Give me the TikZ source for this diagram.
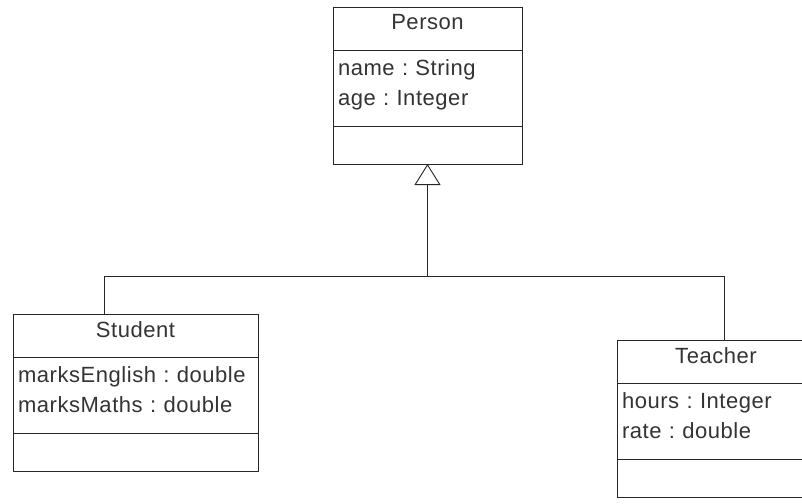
\documentclass[tikz,border=0pt]{standalone}
\usepackage{fontspec}
\setmainfont[LetterSpace=2.5]{Liberation Sans}
\usetikzlibrary{positioning,arrows.meta}
\frenchspacing
\newcommand{\attrtop}{\rule{0pt}{18pt}}
\newcommand{\attrbot}{\rule[-14pt]{0pt}{14pt}}

\begin{document}
\begin{tikzpicture}[x=1pt, y=1pt, line width=0.9pt, draw=black!85,
    every node/.style={font=\fontsize{22}{30}\selectfont, text=black!80},
    classname/.style={draw=black!85, anchor=north west, outer sep=0pt, inner sep=0pt, minimum height=43pt, text height=16pt, text depth=13pt},
    attrs/.style={draw=black!85, outer sep=0pt, inner xsep=5pt, inner ysep=0pt, minimum height=76pt, align=left},
    ops/.style={draw=black!85, outer sep=0pt, inner sep=0pt, minimum height=38pt},
    inherit/.style={-{Triangle[open, length=21pt, width=26pt]}}]
    \useasboundingbox (0,0) rectangle (802,-503);
    \clip (0,0) rectangle (802,-503);
    % Superclass
    \node[classname, minimum width=189pt] (person-name) at (333,-7) {Person};
    \node[attrs, text width=179pt, below=0pt of person-name] (person-attrs) {\attrtop name : String\\age : Integer\attrbot};
    \node[ops, minimum width=189pt, below=0pt of person-attrs] (person-ops) {};
    % Subclasses
    \node[classname, minimum width=245pt] (student-name) at (13,-314) {Student};
    \node[attrs, text width=235pt, below=0pt of student-name] (student-attrs) {\attrtop marksEnglish : double\\marksMaths : double\attrbot};
    \node[ops, minimum width=245pt, below=0pt of student-attrs] (student-ops) {};
    \node[classname, minimum width=198pt] (teacher-name) at (617,-340) {Teacher};
    \node[attrs, text width=188pt, below=0pt of teacher-name] (teacher-attrs) {\attrtop hours : Integer\\rate : double\attrbot};
    \node[ops, minimum width=198pt, below=0pt of teacher-attrs] (teacher-ops) {};
    % Generalisation
    \coordinate (bus) at ([yshift=-112pt]person-ops.south);
    \draw (bus) -| ([xshift=-31.5pt]student-name.north);
    \draw (bus) -| ([xshift=8pt]teacher-name.north);
    \draw[inherit] (bus) -- (person-ops.south);
\end{tikzpicture}
\end{document}
